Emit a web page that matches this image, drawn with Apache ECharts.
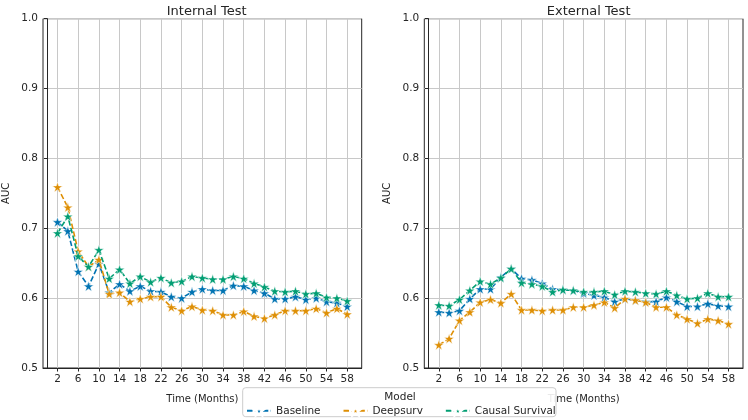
<!DOCTYPE html>
<html>
<head>
<meta charset="utf-8">
<script src="https://cdn.jsdelivr.net/npm/echarts@6/dist/echarts.min.js"></script>
<style>
html,body{margin:0;padding:0;background:#fff;}
#chart{width:748px;height:420px;}
</style>
</head>
<body>
<div id="chart"></div>
<script>
// ---- data ----
const months = [2,4,6,8,10,12,14,16,18,20,22,24,26,28,30,32,34,36,38,40,42,44,46,48,50,52,54,56,58];
const xTicks = [2,6,10,14,18,22,26,30,34,38,42,46,50,54,58];
const yTicks = [0.5,0.6,0.7,0.8,0.9,1.0];
const seriesNames = ['Baseline','Deepsurv','Causal Survival'];
const panelTitles = ['Internal Test','External Test'];

const internalBaseline = [0.709,0.696,0.638,0.617,0.649,0.608,0.620,0.610,0.617,0.610,0.609,0.602,0.600,0.609,
  0.613,0.611,0.611,0.618,0.617,0.611,0.607,0.599,0.599,0.602,0.598,0.600,0.595,0.593,0.588];
const internalDeepsurv = [0.759,0.730,0.667,0.645,0.655,0.606,0.608,0.595,0.599,0.602,0.602,0.587,0.582,0.588,
  0.583,0.582,0.576,0.576,0.581,0.574,0.571,0.576,0.582,0.582,0.582,0.585,0.579,0.585,0.577];
const internalCausal = [0.693,0.717,0.660,0.645,0.669,0.628,0.641,0.621,0.631,0.623,0.629,0.622,0.624,0.631,
  0.629,0.627,0.627,0.631,0.628,0.621,0.616,0.610,0.609,0.610,0.606,0.607,0.601,0.600,0.596];

const externalBaseline = [0.580,0.579,0.582,0.599,0.613,0.613,0.630,0.642,0.628,0.626,0.621,0.613,0.612,0.611,
  0.607,0.604,0.601,0.595,0.599,0.597,0.595,0.595,0.601,0.595,0.588,0.588,0.592,0.589,0.588];
const externalDeepsurv = [0.533,0.542,0.568,0.580,0.594,0.598,0.593,0.606,0.583,0.583,0.582,0.583,0.583,0.587,
  0.587,0.590,0.594,0.586,0.599,0.597,0.594,0.587,0.587,0.576,0.570,0.564,0.570,0.568,0.563];
const externalCausal = [0.590,0.589,0.598,0.611,0.624,0.620,0.629,0.642,0.622,0.620,0.617,0.609,0.612,0.611,
  0.609,0.609,0.610,0.605,0.610,0.609,0.607,0.606,0.610,0.604,0.599,0.600,0.607,0.602,0.602];

// ---- styling ----
const colors = ['#0173b2','#de8f05','#029e73'];
const FONT = 'DejaVu Sans';
const STAR = 'path://M50,0 L61.8,35.1 L98.9,35.1 L69.1,56.7 L80.9,91.9 L50,70.3 L19.1,91.9 L30.9,56.7 L1.1,35.1 L38.2,35.1 Z';

const panels = [
  [internalBaseline, internalDeepsurv, internalCausal],
  [externalBaseline, externalDeepsurv, externalCausal]
];
const gridLeft = [41.7, 424.3];
const gridWidth = [320, 318.7];

const grids = [], xAxes = [], yAxes = [], series = [];
panels.forEach((p, gi) => {
  grids.push({left: gridLeft[gi], top: 18.7, width: gridWidth[gi], height: 349.3,
    show: true, borderColor: '#262626', borderWidth: 1, backgroundColor: 'transparent'});
  xAxes.push({type: 'value', gridIndex: gi, min: -0.8, max: 60.8,
    name: 'Time (Months)', nameLocation: 'middle', nameGap: 26,
    nameTextStyle: {fontFamily: FONT, fontSize: 10, color: '#262626'},
    axisLine: {show: true, onZero: false, lineStyle: {color: '#262626', width: 1}},
    axisTick: {show: true, length: 3.5, customValues: xTicks, lineStyle: {color: '#262626'}},
    axisLabel: {customValues: xTicks, fontFamily: FONT, fontSize: 10.5, color: '#262626', margin: 6},
    splitLine: {show: true, lineStyle: {color: '#c8c8c8', width: 1}}
  });
  yAxes.push({type: 'value', gridIndex: gi, min: 0.5, max: 1.0, interval: 0.1,
    name: 'AUC', nameLocation: 'middle', nameGap: 32,
    nameTextStyle: {fontFamily: FONT, fontSize: 10, color: '#262626'},
    axisLine: {show: true, lineStyle: {color: '#262626', width: 1}},
    axisTick: {show: true, length: 3.5, lineStyle: {color: '#262626'}},
    axisLabel: {fontFamily: FONT, fontSize: 10.5, color: '#262626', margin: 5,
      formatter: v => v.toFixed(1)},
    splitLine: {show: true, lineStyle: {color: '#c8c8c8', width: 1}}
  });
  p.forEach((vals, si) => {
    series.push({
      type: 'line', name: seriesNames[si], xAxisIndex: gi, yAxisIndex: gi,
      data: months.map((m, i) => [m, vals[i]]),
      symbol: STAR, symbolSize: 10, showSymbol: true,
      lineStyle: {color: colors[si], width: 1.6, type: [5.5, 2.4]},
      itemStyle: {color: colors[si], borderColor: '#ffffff', borderWidth: 0.5},
      emphasis: {disabled: true}, animation: false, z: 3 + si
    });
  });
});

const chart = echarts.init(document.getElementById('chart'), null, {renderer: 'canvas'});
chart.setOption({
  backgroundColor: '#ffffff',
  animation: false,
  title: panelTitles.map((t, i) => ({
    text: t, left: gridLeft[i] + gridWidth[i] / 2, top: 0, textAlign: 'center',
    textStyle: {fontFamily: FONT, fontSize: 13, fontWeight: 'normal', color: '#262626'}
  })),
  grid: grids, xAxis: xAxes, yAxis: yAxes, series: series,
  legend: {
    data: seriesNames, left: 241, top: 400, orient: 'horizontal',
    itemWidth: 24, itemHeight: 12, itemGap: 22, z: 120,
    textStyle: {fontFamily: FONT, fontSize: 10.5, color: '#262626'}
  },
  graphic: [
    {type: 'rect', z: 100, shape: {x: 242.7, y: 387.7, width: 313.3, height: 29, r: 3},
      style: {fill: 'rgba(255,255,255,0.9)', stroke: '#cccccc', lineWidth: 1}},
    {type: 'text', z: 110, x: 400, y: 397, style: {text: 'Model', fontFamily: FONT, fontSize: 10.5,
      fill: '#262626', align: 'center', verticalAlign: 'middle'}}
  ]
});
</script>
</body>
</html>
